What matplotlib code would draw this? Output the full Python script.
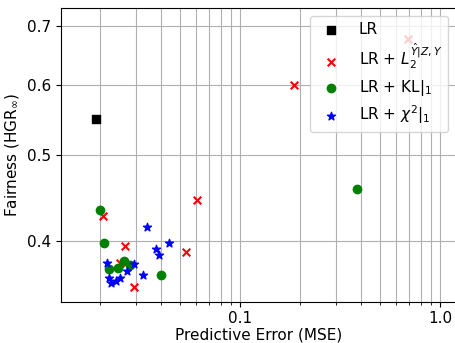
import numpy as np
import matplotlib
matplotlib.use('Agg')
import matplotlib.pyplot as plt
from matplotlib.ticker import FixedFormatter, FixedLocator, NullFormatter

# LR baseline
lr_mse = [0.019]
lr_hgr = [0.550]

# LR + L2 penalty
l2_mse = [0.69, 0.186, 0.0607, 0.0207, 0.0266, 0.0533, 0.0251, 0.0293]
l2_hgr = [0.676, 0.601, 0.445, 0.427, 0.395, 0.389, 0.3775, 0.3545]

# LR + KL|1
kl_mse = [0.386, 0.01995, 0.0208, 0.0262, 0.0280, 0.0244, 0.0222, 0.0404]
kl_hgr = [0.458, 0.433, 0.398, 0.380, 0.3752, 0.3726, 0.3716, 0.3659]

# LR + chi2|1
chi_mse = [0.0341, 0.0442, 0.0380, 0.0394, 0.0215, 0.0296, 0.0273, 0.0326,
           0.0222, 0.0252, 0.0239, 0.0227]
chi_hgr = [0.4142, 0.398, 0.3915, 0.3854, 0.3775, 0.3768, 0.3702, 0.3659,
           0.3633, 0.3635, 0.3605, 0.358]

x_ticks = [0.1, 1.0]
x_ticklabels = ['0.1', '1.0']
y_ticks = [0.4, 0.5, 0.6, 0.7]
y_ticklabels = ['0.4', '0.5', '0.6', '0.7']

fig = plt.figure(figsize=(4.55, 3.43), dpi=100)
ax = fig.add_axes([0.134, 0.1204, 0.868, 0.8554])

ax.scatter(lr_mse, lr_hgr, marker='s', color='k', s=30, label='LR', zorder=3)
ax.scatter(l2_mse, l2_hgr, marker='x', color='r', s=30,
           label=r'LR + $L_2^{\hat{Y}|Z,Y}$', zorder=3)
ax.scatter(kl_mse, kl_hgr, marker='o', color='g', s=36,
           label=r'LR + KL$|_1$', zorder=3)
ax.scatter(chi_mse, chi_hgr, marker='*', color='b', s=36,
           label=r'LR + $\chi^2|_1$', zorder=3)

ax.set_xscale('log')
ax.set_yscale('log')
ax.set_xlim(0.0127, 1.2)
ax.set_ylim(0.3414, 0.733)

ax.xaxis.set_major_locator(FixedLocator(x_ticks))
ax.xaxis.set_major_formatter(FixedFormatter(x_ticklabels))
ax.xaxis.set_minor_formatter(NullFormatter())
ax.yaxis.set_major_locator(FixedLocator(y_ticks))
ax.yaxis.set_major_formatter(FixedFormatter(y_ticklabels))
ax.yaxis.set_minor_formatter(NullFormatter())
ax.tick_params(labelsize=11)

ax.grid(True, which='both', zorder=0)
ax.set_axisbelow(True)

ax.set_xlabel('Predictive Error (MSE)', fontsize=11, labelpad=1)
ax.set_ylabel(r'Fairness (HGR$_\infty$)', fontsize=11)
ax.legend(loc='upper right', fontsize=11, labelspacing=0.35)

fig.savefig('out.png', dpi=100)
